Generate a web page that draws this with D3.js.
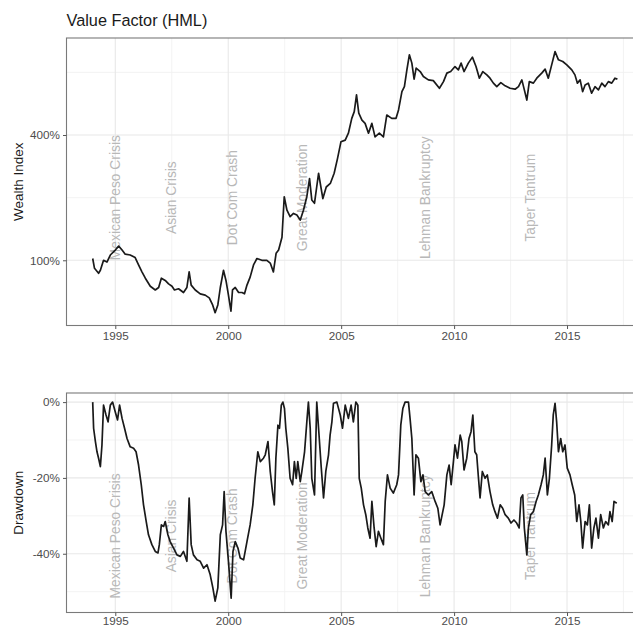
<!DOCTYPE html>
<html><head><meta charset="utf-8">
<script src="https://cdn.jsdelivr.net/npm/d3@7"></script>
<style>body{margin:0;background:#fff;} svg{display:block;font-family:"Liberation Sans",Arial,Helvetica,sans-serif;}</style>
</head><body><svg id="c" width="633" height="628"></svg>
<script>
const chartTitle = "Value Factor (HML)";
const wealthYears = [1994.00,1994.08,1994.26,1994.34,1994.48,1994.63,1994.78,1995.00,1995.15,1995.30,1995.44,1995.66,1995.88,1996.03,1996.18,1996.33,1996.55,1996.77,1996.92,1997.04,1997.21,1997.36,1997.51,1997.62,1997.80,1998.02,1998.17,1998.27,1998.36,1998.54,1998.76,1998.98,1999.16,1999.31,1999.42,1999.54,1999.65,1999.79,1999.90,2000.01,2000.12,2000.19,2000.31,2000.46,2000.61,2000.72,2000.83,2000.97,2001.12,2001.27,2001.49,2001.71,2001.86,2002.00,2002.12,2002.23,2002.38,2002.48,2002.60,2002.74,2002.89,2003.04,2003.19,2003.33,2003.48,2003.60,2003.70,2003.82,2004.00,2004.19,2004.34,2004.52,2004.69,2004.84,2004.99,2005.18,2005.32,2005.47,2005.58,2005.68,2005.78,2005.92,2006.06,2006.21,2006.36,2006.50,2006.69,2006.87,2007.02,2007.24,2007.43,2007.54,2007.69,2007.80,2007.91,2008.02,2008.13,2008.23,2008.32,2008.50,2008.64,2008.86,2009.08,2009.35,2009.53,2009.68,2009.85,2010.04,2010.19,2010.31,2010.44,2010.63,2010.81,2010.97,2011.12,2011.27,2011.45,2011.59,2011.74,2011.89,2012.07,2012.26,2012.48,2012.70,2012.85,2013.00,2013.11,2013.22,2013.33,2013.51,2013.66,2013.88,2014.03,2014.17,2014.32,2014.47,2014.62,2014.81,2014.99,2015.21,2015.35,2015.46,2015.58,2015.69,2015.80,2015.94,2016.09,2016.24,2016.39,2016.54,2016.68,2016.83,2016.98,2017.12,2017.23];
const wealthValues = [1.02,0.915,0.866,0.895,1.00,0.98,1.06,1.12,1.17,1.12,1.07,1.06,1.03,0.95,0.88,0.82,0.75,0.72,0.74,0.82,0.80,0.77,0.75,0.72,0.73,0.70,0.74,0.88,0.76,0.72,0.69,0.68,0.66,0.61,0.56,0.61,0.74,0.895,0.80,0.68,0.57,0.72,0.74,0.70,0.70,0.69,0.76,0.83,0.95,1.02,1.00,1.00,0.97,0.88,1.08,1.12,1.29,2.02,1.74,1.62,1.68,1.65,1.56,1.74,2.02,2.47,1.95,1.88,2.62,1.98,2.25,2.34,2.62,3.09,3.71,3.78,4.08,4.81,5.18,6.23,5.09,4.72,4.55,4.08,4.55,3.92,4.08,3.92,4.99,4.81,4.81,5.28,6.46,6.83,8.22,9.71,8.86,7.42,8.38,8.07,7.64,7.36,7.30,6.71,7.22,7.93,8.07,8.53,8.22,8.86,8.07,8.86,9.47,8.53,7.50,8.07,7.78,7.50,7.10,6.83,7.14,6.89,6.71,6.64,6.83,7.36,6.59,5.89,7.22,7.10,7.50,7.93,8.29,7.50,8.69,10.07,9.19,9.02,8.69,8.22,7.78,7.10,7.36,6.46,6.96,7.10,6.35,6.83,6.59,7.10,6.83,7.22,7.10,7.50,7.42];
const ddYears = [1994.00,1994.04,1994.12,1994.19,1994.26,1994.34,1994.41,1994.48,1994.59,1994.68,1994.78,1994.88,1995.00,1995.10,1995.19,1995.30,1995.41,1995.52,1995.66,1995.81,1995.92,1996.03,1996.15,1996.25,1996.37,1996.47,1996.62,1996.77,1996.89,1996.95,1997.04,1997.14,1997.21,1997.33,1997.43,1997.58,1997.73,1997.88,1998.02,1998.17,1998.27,1998.36,1998.46,1998.62,1998.76,1998.91,1999.06,1999.20,1999.32,1999.42,1999.54,1999.65,1999.75,1999.82,1999.90,2000.01,2000.13,2000.21,2000.31,2000.43,2000.53,2000.68,2000.83,2000.97,2001.09,2001.19,2001.31,2001.42,2001.56,2001.64,2001.76,2001.86,2001.96,2002.04,2002.11,2002.20,2002.27,2002.35,2002.42,2002.49,2002.55,2002.64,2002.74,2002.85,2002.93,2003.01,2003.08,2003.19,2003.26,2003.38,2003.48,2003.55,2003.63,2003.70,2003.82,2003.92,2004.00,2004.12,2004.22,2004.32,2004.44,2004.51,2004.59,2004.66,2004.81,2004.96,2005.06,2005.18,2005.32,2005.44,2005.54,2005.65,2005.74,2005.80,2005.89,2005.99,2006.09,2006.18,2006.28,2006.36,2006.46,2006.55,2006.65,2006.76,2006.87,2006.95,2007.05,2007.17,2007.31,2007.46,2007.54,2007.64,2007.73,2007.83,2007.98,2008.05,2008.13,2008.23,2008.31,2008.42,2008.53,2008.62,2008.72,2008.86,2009.01,2009.16,2009.28,2009.38,2009.56,2009.68,2009.78,2009.87,2009.97,2010.04,2010.15,2010.27,2010.34,2010.44,2010.56,2010.66,2010.75,2010.83,2010.92,2011.00,2011.08,2011.15,2011.25,2011.37,2011.47,2011.59,2011.71,2011.81,2011.92,2012.04,2012.15,2012.26,2012.40,2012.52,2012.65,2012.77,2012.88,2012.96,2013.04,2013.11,2013.22,2013.29,2013.39,2013.51,2013.63,2013.73,2013.85,2013.95,2014.03,2014.13,2014.22,2014.32,2014.39,2014.47,2014.54,2014.62,2014.72,2014.81,2014.91,2015.01,2015.13,2015.23,2015.34,2015.43,2015.53,2015.61,2015.69,2015.80,2015.90,2015.99,2016.09,2016.19,2016.28,2016.39,2016.49,2016.61,2016.71,2016.83,2016.90,2017.00,2017.08,2017.20];
const ddValues = [0,-6.9,-10.4,-13.1,-14.8,-17.0,-11.3,-0.8,-3.4,-5.2,-0.8,0,-2.6,-4.7,-0.8,-4.3,-6.9,-9.6,-11.8,-12.2,-13.1,-16.6,-21.8,-27.1,-31.5,-35.0,-37.6,-39.4,-39.8,-37.6,-32.4,-32.8,-31.5,-35.0,-36.8,-38.5,-40.3,-40.7,-39.4,-42.0,-25.3,-37.6,-40.3,-41.6,-42.0,-43.8,-42.9,-45.5,-49.0,-52.5,-49.0,-35.0,-32.4,-23.6,-34.1,-42.0,-51.7,-39.4,-36.8,-38.5,-41.1,-41.6,-36.8,-32.4,-27.1,-20.1,-13.1,-15.7,-14.8,-13.9,-10.4,-18.3,-23.6,-27.1,-14.8,-6.1,-6.9,-0.8,0,-1.7,-6.9,-12.2,-20.1,-21.8,-15.7,-20.1,-15.7,-21.0,-18.3,-13.1,-5.2,0,-6.9,-20.1,-24.5,0,-6.9,-17.4,-25.3,-18.3,-13.9,-8.7,-5.2,-0.3,0,-3.4,-6.9,-0.8,-4.3,-0.8,-5.2,0,-0.8,-20.1,-22.7,-27.1,-29.7,-33.2,-35.9,-26.2,-33.2,-38.1,-34.1,-35.9,-37.6,-26.2,-19.2,-22.7,-24.0,-21.8,-19.2,-6.1,-1.7,0,0,-4.3,-9.6,-24.5,-13.9,-14.8,-21.0,-19.2,-23.6,-24.5,-23.6,-26.2,-28.0,-32.4,-27.1,-19.2,-16.6,-21.8,-15.7,-11.3,-14.8,-8.7,-10.4,-17.9,-14.8,-9.6,-7.8,-3.4,-13.1,-13.9,-20.1,-25.3,-18.3,-20.1,-19.2,-23.6,-27.1,-28.9,-30.6,-27.1,-28.0,-29.7,-30.6,-31.9,-31.1,-31.9,-33.2,-25.3,-24.5,-33.2,-40.3,-33.2,-29.7,-28.9,-26.2,-24.5,-21.8,-19.2,-14.8,-24.5,-20.1,-11.3,-3.4,-0.3,-5.2,-13.1,-9.6,-13.1,-11.3,-17.4,-19.2,-21.8,-24.5,-31.5,-27.1,-31.5,-38.5,-31.5,-32.4,-27.1,-38.5,-33.2,-30.6,-35.9,-29.7,-33.2,-31.5,-32.4,-28.9,-31.5,-26.2,-26.7];
const eventNames = ["Mexican Peso Crisis","Asian Crisis","Dot Com Crash","Great Moderation","Lehman Bankruptcy","Taper Tantrum"];
const eventYears = [1995.0,1997.5,2000.2,2003.3,2008.75,2013.4];
const xTicks = [1995,2000,2005,2010,2015];
const xMinor = [1992.5,1997.5,2002.5,2007.5,2012.5,2017.5];
const wealthTicks = [1,4];
const wealthTickLabels = ["100%","400%"];
const wealthMinor = [2,8];
const ddTicks = [0,-20,-40];
const ddTickLabels = ["0%","-20%","-40%"];
const ddMinor = [-10,-30,-50];

const svg = d3.select('#c');
const L = 66.5, R = 643.6;
const x = d3.scaleLinear().domain([1992.84, 2018.39]).range([L, R]);
const top1 = 38, bot1 = 325.5, top2 = 393, bot2 = 612.5;
const yW = d3.scaleLog().domain([0.486, 11.7]).range([bot1, top1]);
const yD = d3.scaleLinear().domain([2.4, -55.5]).range([top2, bot2]);

svg.append('text').attr('x', L).attr('y', 26).attr('font-size', 16.3).attr('fill', '#1a1a1a').text(chartTitle);

function panel(id, y, t, b, yMaj, yMajLab, yMin, yVals, xVals, evY, title, xPad) {
  const g = svg.append('g');
  svg.append('clipPath').attr('id', id).append('rect').attr('x', L).attr('y', t).attr('width', R - L).attr('height', b - t);
  const grid = g.append('g').attr('clip-path', `url(#${id})`);
  grid.selectAll('.ym').data(yMin).enter().append('line')
    .attr('x1', L).attr('x2', R).attr('y1', d => y(d)).attr('y2', d => y(d))
    .attr('stroke', '#f0f0f0').attr('stroke-width', 0.8);
  grid.selectAll('.xm').data(xMinor).enter().append('line')
    .attr('y1', t).attr('y2', b).attr('x1', d => x(d)).attr('x2', d => x(d))
    .attr('stroke', '#f0f0f0').attr('stroke-width', 0.8);
  grid.selectAll('.yM').data(yMaj).enter().append('line')
    .attr('x1', L).attr('x2', R).attr('y1', d => y(d)).attr('y2', d => y(d))
    .attr('stroke', '#e8e8e8').attr('stroke-width', 1.1);
  grid.selectAll('.xM').data(xTicks).enter().append('line')
    .attr('y1', t).attr('y2', b).attr('x1', d => x(d)).attr('x2', d => x(d))
    .attr('stroke', '#e8e8e8').attr('stroke-width', 1.1);
  grid.selectAll('.ev').data(eventNames).enter().append('text')
    .attr('transform', (d, i) => `translate(${x(eventYears[i])},${y(evY)}) rotate(-90)`)
    .attr('text-anchor', 'middle').attr('dominant-baseline', 'central')
    .attr('font-size', 13.8).attr('fill', '#b8b8b8').text(d => d);
  const line = d3.line().x((d, i) => x(xVals[i])).y(d => y(d));
  grid.append('path').datum(yVals).attr('d', line).attr('fill', 'none')
    .attr('stroke', '#1a1a1a').attr('stroke-width', 1.7).attr('stroke-linejoin', 'round');
  g.append('rect').attr('x', L).attr('y', t).attr('width', R - L).attr('height', b - t)
    .attr('fill', 'none').attr('stroke', '#7a7a7a').attr('stroke-width', 1.1);
  const ax = g.append('g').attr('transform', `translate(0,${b})`)
    .call(d3.axisBottom(x).tickValues(xTicks).tickFormat(d3.format('d')).tickSize(3.5).tickPadding(xPad));
  const ay = g.append('g').attr('transform', `translate(${L},0)`)
    .call(d3.axisLeft(y).tickValues(yMaj).tickFormat((d, i) => yMajLab[i]).tickSize(3.5).tickPadding(3));
  [ax, ay].forEach(a => {
    a.select('.domain').remove();
    a.selectAll('line').attr('stroke', '#555');
    a.selectAll('text').attr('font-size', 11.7).attr('fill', '#4d4d4d').attr('font-family', '"Liberation Sans",Arial,sans-serif');
  });
  svg.append('text').attr('transform', `translate(18,${(t + b) / 2}) rotate(-90)`)
    .attr('text-anchor', 'middle').attr('dominant-baseline', 'central')
    .attr('font-size', 13.5).attr('fill', '#1a1a1a').text(title);
}

panel('p1', yW, top1, bot1, wealthTicks, wealthTickLabels, wealthMinor, wealthValues, wealthYears, 2, 'Wealth Index', 2.7);
panel('p2', yD, top2, bot2, ddTicks, ddTickLabels, ddMinor, ddValues, ddYears, -35.3, 'Drawdown', 0.6);
</script></body></html>
